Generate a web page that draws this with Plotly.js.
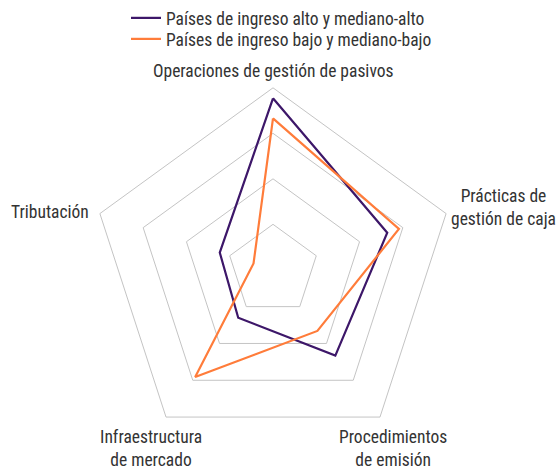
<!DOCTYPE html>
<html>
<head>
<meta charset="utf-8">
<script src="https://cdn.plot.ly/plotly-3.0.1.min.js"></script>
<style>html,body{margin:0;padding:0;background:#fff;}#chart{width:559px;height:470px;}</style>
</head>
<body>
<div id="chart"></div>
<script>
const categories = ["Operaciones de gestión de pasivos", "Prácticas de gestión de caja", "Procedimientos de emisión", "Infraestructura de mercado", "Tributación"];
const seriesNames = ["Países de ingreso alto y mediano-alto", "Países de ingreso bajo y mediano-bajo"];
const highIncome = [3.77, 2.64, 2.33, 1.30, 1.23];
const lowIncome = [3.33, 2.91, 1.66, 2.91, 0.45];
const labelTexts = ["Operaciones de gestión de pasivos", "Prácticas de<br>gestión de caja", "Procedimientos<br>de emisión", "Infraestructura<br>de mercado", "Tributación"];

const FONT = "'Liberation Sans Narrow', 'Roboto Condensed', Roboto, sans-serif";
const FS = 17.5;
const close = a => a.concat([a[0]]);

const traces = [
  {type: "scatterpolar", mode: "lines", name: seriesNames[0], r: close(highIncome), theta: close(categories),
   line: {color: "#3d1769", width: 2.2}, legend: "legend"},
  {type: "scatterpolar", mode: "lines", name: seriesNames[1], r: close(lowIncome), theta: close(categories),
   line: {color: "#ff7c3a", width: 2.2}, legend: "legend2"}
];

const cx = 273, cy = 269.4, R = 182.4, W = 559, H = 470;
const labelPos = [
  {x: 273, y: 70, xa: "center"},
  {x: 503, y: 207, xa: "center"},
  {x: 393, y: 448, xa: "center"},
  {x: 151, y: 448, xa: "center"},
  {x: 91, y: 211, xa: "right"}
];
const annotations = labelTexts.map((t, i) => ({
  text: t, xref: "paper", yref: "paper", x: labelPos[i].x / W, y: 1 - labelPos[i].y / H,
  xanchor: labelPos[i].xa, yanchor: "middle", showarrow: false, align: "center",
  font: {family: FONT, size: FS, color: "#333"}
}));

const legendBase = {xanchor: "left", yanchor: "middle", orientation: "v", itemwidth: 30,
  font: {family: FONT, size: FS, color: "#333"}, bgcolor: "rgba(0,0,0,0)"};

const layout = {
  width: W, height: H,
  margin: {l: 0, r: 0, t: 0, b: 0},
  paper_bgcolor: "#fff",
  font: {family: FONT, size: FS, color: "#333"},
  showlegend: true,
  legend: Object.assign({x: 126 / W, y: 1 - 17 / H}, legendBase),
  legend2: Object.assign({x: 126 / W, y: 1 - 39 / H}, legendBase),
  polar: {
    domain: {x: [(cx - R) / W, (cx + R) / W], y: [(H - cy - R) / H, (H - cy + R) / H]},
    gridshape: "linear",
    bgcolor: "#fff",
    radialaxis: {range: [0, 4], dtick: 1, showticklabels: false, ticks: "", showline: false,
                 gridcolor: "#c4c4c4", gridwidth: 1},
    angularaxis: {direction: "clockwise", rotation: 90, showticklabels: false, ticks: "",
                  showgrid: false, linecolor: "#c4c4c4", linewidth: 1}
  },
  annotations: annotations
};

Plotly.newPlot("chart", traces, layout, {displayModeBar: false, staticPlot: true});
</script>
</body>
</html>
